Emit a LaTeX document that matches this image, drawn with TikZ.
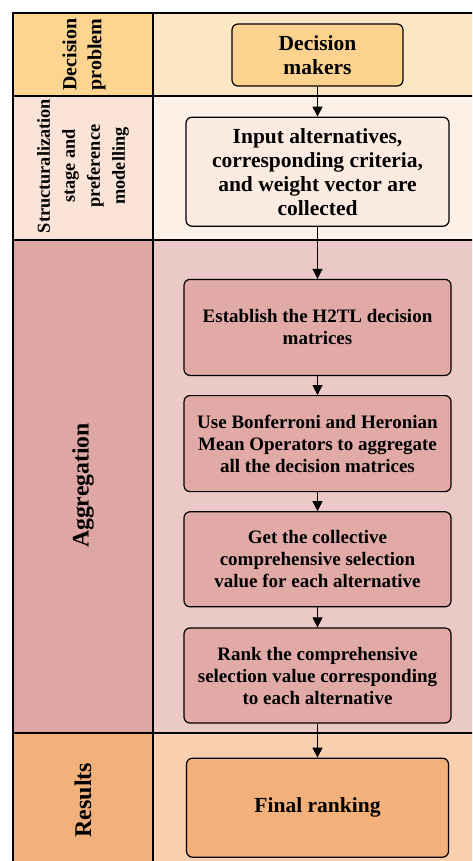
\documentclass[tikz,border=0pt]{standalone}
\usepackage{fontspec}
\setmainfont{Liberation Serif}
\usetikzlibrary{arrows.meta,positioning}

\definecolor{probDark}{HTML}{FDD590}
\definecolor{probLight}{HTML}{FDE6C3}
\definecolor{probBox}{HTML}{FBD38F}
\definecolor{strDark}{HTML}{FAE4D7}
\definecolor{strLight}{HTML}{FDF0E7}
\definecolor{strBox}{HTML}{FCEBE1}
\definecolor{aggDark}{HTML}{DFA7A4}
\definecolor{aggLight}{HTML}{EBC9C6}
\definecolor{aggBox}{HTML}{E1AAA7}
\definecolor{resDark}{HTML}{F2B07A}
\definecolor{resLight}{HTML}{F8D0AF}
\definecolor{resBox}{HTML}{F2B07A}

\begin{document}
\begin{tikzpicture}[
    x=1pt, y=-1pt,
    node distance=19pt,
    stepbox/.style={rectangle, draw, rounded corners=6pt, line width=1.2pt, minimum width=267pt, inner sep=2pt, align=center, font=\fontsize{19}{22}\selectfont\bfseries},
    bigbox/.style={stepbox, font=\fontsize{21.5}{24}\selectfont\bfseries},
    lanelabel/.style={rotate=90, align=center, font=\fontsize{20}{25}\selectfont\bfseries},
    flow/.style={-{Triangle[width=10pt,length=10pt]}, line width=1pt}
]
\useasboundingbox (0,0) rectangle (472,861);
\clip (0,0) rectangle (472,861);

% レーン
\fill[probDark] (13,13) rectangle (153,96);
\fill[probLight] (153,13) rectangle (490,96);
\fill[strDark] (13,96) rectangle (153,240);
\fill[strLight] (153,96) rectangle (490,240);
\fill[aggDark] (13,240) rectangle (153,733);
\fill[aggLight] (153,240) rectangle (490,733);
\fill[resDark] (13,733) rectangle (153,875);
\fill[resLight] (153,733) rectangle (490,875);
\draw[line width=2.8pt] (13,13) rectangle (490,875);
\draw[line width=2.8pt] (153,13) -- (153,875);
\foreach \yy in {96,240,733}
    \draw[line width=2.8pt] (13,\yy) -- (490,\yy);

\node[lanelabel] (probLbl) at (84,54.5) {Decision\\problem};
\node[lanelabel, font=\fontsize{18.3}{25}\selectfont\bfseries] (strLbl) at (83,166) {Structuralization\\stage and\\preference\\modelling};
\node[lanelabel, font=\fontsize{23.7}{25}\selectfont\bfseries] (aggLbl) at (83,485.5) {Aggregation};
\node[lanelabel, font=\fontsize{24}{25}\selectfont\bfseries] (resLbl) at (83,800) {Results};

% ノード定義
\node[bigbox, fill=probBox, minimum width=171pt, minimum height=62pt] (dm) at (317.5,55) {Decision\\makers};
\node[bigbox, fill=strBox, minimum width=263pt, minimum height=109pt, below=30pt of dm] (input) {Input alternatives,\\corresponding criteria,\\and weight vector are\\collected};
\node[stepbox, fill=aggBox, minimum height=96pt, below=52pt of input] (hmat) {Establish the H2TL decision\\matrices};
\node[stepbox, fill=aggBox, minimum height=96pt, below=of hmat] (aggop) {Use Bonferroni and Heronian\\Mean Operators to aggregate\\all the decision matrices};
\node[stepbox, fill=aggBox, minimum height=95pt, below=of aggop] (coll) {Get the collective\\comprehensive selection\\value for each alternative};
\node[stepbox, fill=aggBox, minimum height=95pt, below=20pt of coll] (rank) {Rank the comprehensive\\selection value corresponding\\to each alternative};
\node[bigbox, fill=resBox, minimum width=262pt, minimum height=99pt, below=34pt of rank] (final) {Final ranking};

% 矢印
\draw[flow] (dm) -- (input);
\draw[flow] (input) -- (hmat);
\draw[flow] (hmat) -- (aggop);
\draw[flow] (aggop) -- (coll);
\draw[flow] (coll) -- (rank);
\draw[flow] (rank) -- (final);
\end{tikzpicture}
\end{document}
